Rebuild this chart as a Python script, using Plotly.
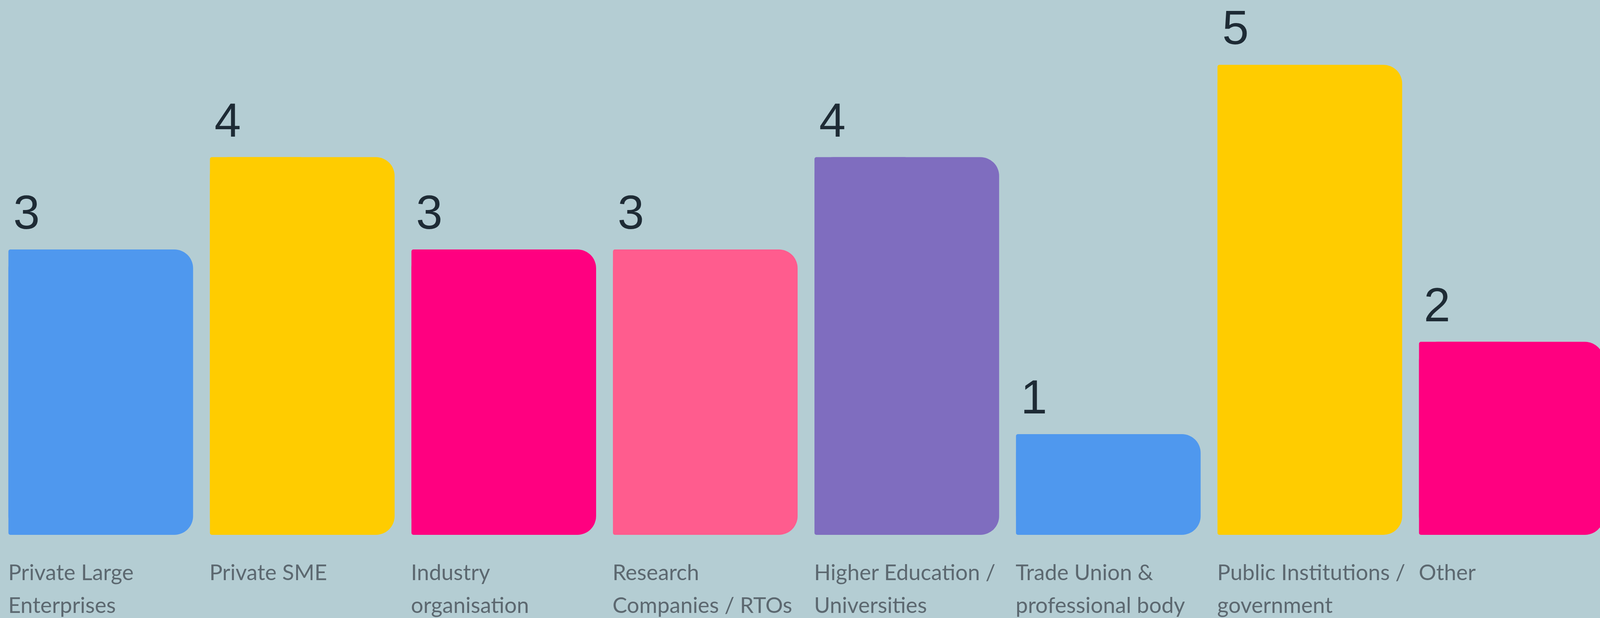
import plotly.graph_objects as go

categories = [
    "Private Large<br>Enterprises",
    "Private SME",
    "Industry<br>organisation",
    "Research<br>Companies / RTOs",
    "Higher Education /<br>Universities",
    "Trade Union &<br>professional body",
    "Public Institutions /<br>government",
    "Other",
]
values = [3, 4, 3, 3, 4, 1, 5, 2]
colors = ["#4f98ee", "#ffcc00", "#ff0080", "#ff5c8e", "#7f6dbf", "#4f98ee", "#ffcc00", "#ff0080"]

BG = "#b4cdd3"
W, H = 4096, 1583
BAR_W = 0.9164
BASE = -0.0909
xs = list(range(len(categories)))

fig = go.Figure()
# full bars, large rounded top-right corner
fig.add_trace(go.Bar(
    x=xs, y=[v - BASE for v in values], base=BASE,
    width=BAR_W, offset=-BAR_W / 2,
    marker=dict(color=colors, line=dict(width=0), cornerradius=48),
    hoverinfo="skip", showlegend=False,
))
# left halves, nearly square top-left corner
fig.add_trace(go.Bar(
    x=xs, y=[v - BASE for v in values], base=BASE,
    width=BAR_W / 2, offset=-BAR_W / 2,
    marker=dict(color=colors, line=dict(width=0), cornerradius=5),
    hoverinfo="skip", showlegend=False,
))

annotations = []
for i, (c, v) in enumerate(zip(categories, values)):
    annotations.append(dict(
        x=i - BAR_W / 2, y=v, xref="x", yref="y",
        xanchor="left", yanchor="bottom", xshift=10, yshift=25,
        text=str(v), showarrow=False, align="left",
        font=dict(family="Liberation Sans, Arial, sans-serif", size=122, color="#1e2b35"),
    ))
    for k, line in enumerate(c.split("<br>")):
        annotations.append(dict(
            x=i - BAR_W / 2, y=0, xref="x", yref="paper",
            xanchor="left", yanchor="top", xshift=-2, yshift=-60 - 84 * k,
            text=line, showarrow=False, align="left", borderpad=0,
            font=dict(family="Lato, sans-serif", size=56, color="#5c6870"),
        ))

fig.update_layout(
    width=W, height=H,
    margin=dict(l=0, r=0, t=0, b=213),
    paper_bgcolor=BG, plot_bgcolor=BG,
    barmode="overlay",
    xaxis=dict(range=[-0.5, 7.44], visible=False, fixedrange=True),
    yaxis=dict(range=[BASE, 5.702], visible=False, fixedrange=True),
    annotations=annotations,
)

fig.write_html(
    "out.html",
    config={"displayModeBar": False},
    post_script="document.body.style.margin='0';document.body.style.background='" + BG + "';",
)
